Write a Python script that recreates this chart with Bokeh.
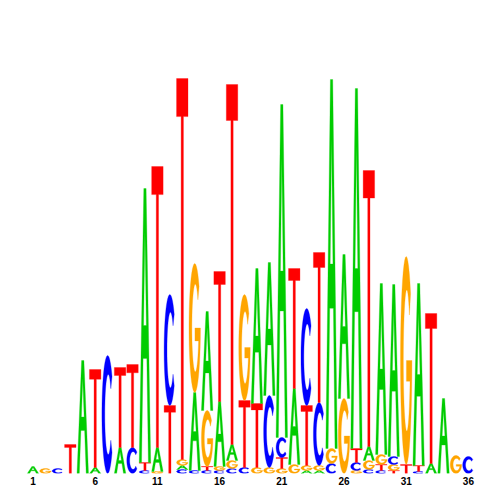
import numpy as np
from bokeh.plotting import figure
from bokeh.models import ColumnDataSource, FixedTicker
from bokeh.embed import file_html
from bokeh.resources import INLINE

# ---------------- data ----------------
positions = list(range(1, 37))
# letters of each stack, bottom to top
stack_letters = ["A", "G", "C", "T", "A", "AT", "C", "AT", "CT", "CTA",
                 "GAT", "TC", "CAGT", "CAG", "CTGA", "CGAT", "CGAT", "CTG",
                 "GTA", "GCA", "GTCA", "GAT", "AGTC", "AGCT", "CGA", "GA",
                 "GCTA", "CGAT", "CTGA", "TGCA", "TG", "CTA", "AT", "A", "G", "C"]
# letter heights (bits), bottom to top
stack_heights = [
    [0.035], [0.025], [0.025], [0.145], [0.565],
    [0.03, 0.49], [0.59], [0.13, 0.40], [0.13, 0.415], [0.015, 0.04, 1.37],
    [0.01, 0.12, 1.405], [0.34, 0.555], [0.02, 0.02, 0.03, 1.905],
    [0.015, 0.39, 0.645], [0.015, 0.02, 0.28, 0.495], [0.015, 0.02, 0.325, 0.65],
    [0.025, 0.04, 0.08, 1.80], [0.03, 0.335, 0.53], [0.03, 0.32, 0.675],
    [0.03, 0.36, 0.665], [0.025, 0.055, 0.10, 1.665], [0.045, 0.38, 0.60],
    [0.015, 0.025, 0.30, 0.485], [0.015, 0.025, 0.315, 0.75], [0.05, 0.075, 1.845],
    [0.375, 0.72], [0.015, 0.04, 0.07, 1.80], [0.02, 0.045, 0.07, 1.38],
    [0.015, 0.03, 0.05, 0.855], [0.015, 0.03, 0.04, 0.86], [0.045, 1.04],
    [0.01, 0.03, 0.91], [0.05, 0.75], [0.375], [0.09], [0.085],
]
tick_positions = [1, 6, 11, 16, 21, 26, 31, 36]
letter_colors = {"A": "#00CC00", "C": "#0000FF", "G": "#FFA500", "T": "#FF0000"}

# ---------------- glyph outlines (unit box) ----------------
def arc(cx, cy, rx, ry, a0, a1, n=40):
    t = np.radians(np.linspace(a0, a1, n))
    return list(cx + rx * np.cos(t)), list(cy + ry * np.sin(t))

def glyph(letter):
    if letter == "A":
        ox = [0, 0.4, 0.6, 1, 0.8, 0.664, 0.336, 0.2]
        oy = [0, 1, 1, 0, 0, 0.38, 0.38, 0]
        hx = [0.379, 0.621, 0.5]
        hy = [0.5, 0.5, 0.84]
        return [(ox, oy), (hx, hy)]
    if letter == "T":
        ox = [0, 1, 1, 0.6, 0.6, 0.4, 0.4, 0]
        oy = [1, 1, 0.9, 0.9, 0, 0, 0.9, 0.9]
        return [(ox, oy)]
    if letter == "C":
        x1, y1 = arc(0.5, 0.5, 0.5, 0.5, 40, 320)
        x2, y2 = arc(0.55, 0.5, 0.3, 0.34, 320, 40)
        return [(x1 + x2, y1 + y2)]
    if letter == "G":
        x1, y1 = arc(0.5, 0.5, 0.5, 0.5, 40, 360)
        th = np.degrees(np.arcsin((0.4 - 0.5) / 0.34))
        x2, y2 = arc(0.55, 0.5, 0.3, 0.34, 360 + th, 40)
        xs = x1 + [0.52, 0.52] + x2
        ys = y1 + [0.5, 0.4] + y2
        return [(xs, ys)]

letter_width = 0.92
xs_all, ys_all, cols = [], [], []
for pos, letters, heights in zip(positions, stack_letters, stack_heights):
    y0 = 0.0
    for L, h in zip(letters, heights):
        rings_x, rings_y = [], []
        for gx, gy in glyph(L):
            rings_x.append([pos - letter_width / 2 + u * letter_width for u in gx])
            rings_y.append([y0 + v * h for v in gy])
        xs_all.append([rings_x])
        ys_all.append([rings_y])
        cols.append(letter_colors[L])
        y0 += h

src = ColumnDataSource(dict(xs=xs_all, ys=ys_all, color=cols))

# ---------------- figure ----------------
W, H, BOTTOM = 492, 492, 19
px_per_unit = 12.44
x0 = 1 - 32.5 / px_per_unit
x1 = x0 + W / px_per_unit
p = figure(width=W, height=H, output_backend="svg", toolbar_location=None,
           x_range=(x0, x1), y_range=(0, (H - BOTTOM) / 200), y_axis_location=None,
           min_border_left=0, min_border_right=0, min_border_top=0,
           min_border_bottom=BOTTOM)
p.multi_polygons(xs="xs", ys="ys", fill_color="color", line_color="color",
                 line_width=0.3, source=src)

p.xaxis.ticker = FixedTicker(ticks=tick_positions)
p.xaxis.axis_line_color = None
p.xaxis.major_tick_line_color = None
p.xaxis.minor_tick_line_color = None
p.xaxis.major_tick_out = 0
p.xaxis.major_label_standoff = 3
p.xaxis.major_label_text_font = "Liberation Sans"
p.xaxis.major_label_text_font_style = "bold"
p.xaxis.major_label_text_font_size = "10px"
p.xaxis.major_label_text_color = "black"
p.xgrid.visible = False
p.ygrid.visible = False
p.outline_line_color = None
p.background_fill_color = "white"
p.border_fill_color = "white"

open("out.html", "w").write(file_html(p, INLINE))
